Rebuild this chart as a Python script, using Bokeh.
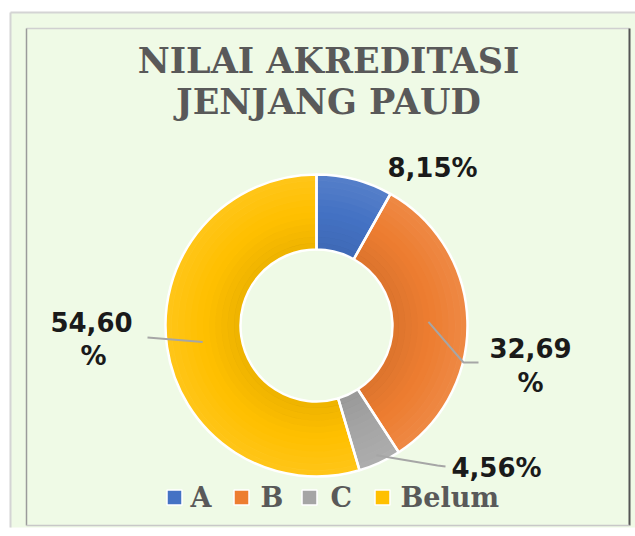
import math
from bokeh.plotting import figure
from bokeh.models import Range1d, ColumnDataSource
from bokeh.embed import file_html
from bokeh.resources import INLINE
from bokeh.core.properties import value

# ---------------- data ----------------
title_lines = ["NILAI AKREDITASI", "JENJANG PAUD"]
categories = ["A", "B", "C", "Belum"]
percentages = [8.15, 32.69, 4.56, 54.60]
value_labels = ["8,15%", "32,69", "4,56%", "54,60"]
colors = ["#4472C4", "#ED7D31", "#A5A5A5", "#FFC000"]

# ---------------- layout ----------------
W, H = 635, 536


def X(px):
    return px


def Y(py):
    return H - py


p = figure(width=W, height=H, output_backend="svg", toolbar_location=None,
           x_range=Range1d(0, W), y_range=Range1d(0, H), min_border=0,
           background_fill_color="white", border_fill_color="white")
p.axis.visible = False
p.grid.visible = False
p.outline_line_color = None

# outer and inner panels
p.quad(left=X(10), right=X(635), top=Y(12), bottom=Y(527),
       fill_color="#EFFAE6", line_color=None)
p.segment(x0=[X(10), X(10)], y0=[Y(12), Y(12)], x1=[X(635), X(10)], y1=[Y(12), Y(527)],
          line_color="#D4D4D4", line_width=2)
p.segment(x0=[X(26)], y0=[Y(28)], x1=[X(629)], y1=[Y(28)], line_color="#D0D0D0", line_width=1.5)
p.segment(x0=[X(26)], y0=[Y(28)], x1=[X(26)], y1=[Y(525)], line_color="#9A9A9A", line_width=1.5)
p.segment(x0=[X(629)], y0=[Y(28)], x1=[X(629)], y1=[Y(525)], line_color="#555555", line_width=2)
p.segment(x0=[X(26)], y0=[Y(525)], x1=[X(629)], y1=[Y(525)], line_color="#C8C8C8", line_width=1.5)

# title
p.text(x=[X(328), X(328)], y=[Y(60), Y(101)], text=title_lines,
       text_font=value("DejaVu Serif"), text_font_style="bold", text_font_size="35px",
       text_color="#595959", text_align="center", text_baseline="middle")

# donut
cx, cy = X(316), Y(325)
r_in, r_out = 76, 151
total = sum(percentages)
starts, ends, mids = [], [], []
cum = 0.0
for v in percentages:
    a0 = math.pi / 2 - 2 * math.pi * cum / total
    cum += v
    a1 = math.pi / 2 - 2 * math.pi * cum / total
    starts.append(a0)
    ends.append(a1)
    mids.append((a0 + a1) / 2)

src = ColumnDataSource(dict(start=starts, end=ends, color=colors, cat=categories))
p.annular_wedge(x=cx, y=cy, inner_radius=r_in, outer_radius=r_out,
                start_angle="start", end_angle="end", direction="clock",
                fill_color="color", line_color=None, source=src)
# soft bevel shading: thin bands, darker inside, lighter outside
nb = 12
step = (r_out - r_in) / nb
for k in range(nb):
    r0 = r_in + k * step
    t = (k + 0.5) / nb
    if t < 0.5:
        fc, fa = "black", 0.07 * (0.5 - t) * 2
    else:
        fc, fa = "white", 0.10 * (t - 0.5) * 2
    p.annular_wedge(x=cx, y=cy, inner_radius=r0, outer_radius=r0 + step + 0.3,
                    start_angle="start", end_angle="end", direction="clock",
                    fill_color=fc, fill_alpha=fa, line_color=None, source=src)
# white separators and rim
p.annular_wedge(x=cx, y=cy, inner_radius=r_in, outer_radius=r_out,
                start_angle="start", end_angle="end", direction="clock",
                fill_color=None, line_color="white", line_width=2.5, source=src)

# leader lines (start inside slice, data-driven angle)
lead_r = [None, 112, 143, 115]
lead_path = {
    1: [(463, 362), (478, 362)],
    2: [(437, 465), (445, 466)],
    3: [(147, 337)],
}
for i, pts in lead_path.items():
    sx = cx + lead_r[i] * math.cos(mids[i])
    sy = cy + lead_r[i] * math.sin(mids[i])
    xs = [sx] + [X(a) for a, b in pts]
    ys = [sy] + [Y(b) for a, b in pts]
    p.line(xs, ys, line_color="#A6A6A6", line_width=2)

# value labels
lab_pos = [(432, 167), (530, 347), (496, 467), (91, 321)]
p.text(x=[X(a) for a, b in lab_pos], y=[Y(b) for a, b in lab_pos], text=value_labels,
       text_font=value("DejaVu Sans"), text_font_style="bold", text_font_size="26px",
       text_color="#1A1A1A", text_align="center", text_baseline="middle")
pct_pos = [(530, 382), (93, 355)]
p.text(x=[X(a) for a, b in pct_pos], y=[Y(b) for a, b in pct_pos], text=["%", "%"],
       text_font=value("DejaVu Sans"), text_font_style="bold", text_font_size="26px",
       text_color="#1A1A1A", text_align="center", text_baseline="middle")

# legend
mk_x = [174, 241, 309, 382]
tx_x = [190, 260, 330, 400]
ly = 497
p.scatter(x=[X(a) for a in mk_x], y=[Y(ly)] * 4, marker="square", size=15,
          fill_color=colors, line_color="white", line_width=1.5)
p.text(x=[X(a) for a in tx_x], y=[Y(ly)] * 4, text=categories,
       text_font=value("DejaVu Serif"), text_font_style="bold", text_font_size="27px",
       text_color="#595959", text_align="left", text_baseline="middle")

open("out.html", "w").write(file_html(p, INLINE))
